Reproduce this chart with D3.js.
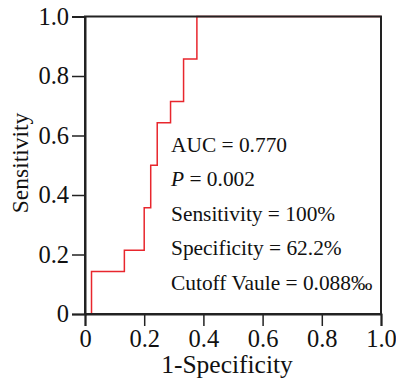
<!DOCTYPE html>
<html><head><meta charset="utf-8">
<script src="https://cdn.jsdelivr.net/npm/d3@7"></script>
<style>html,body{margin:0;padding:0;background:#fff;}svg{display:block;}</style>
</head><body>
<svg id="c" width="396" height="384"></svg>
<script>
// ROC step points (1-Specificity, Sensitivity)
const fpr = [0.022, 0.022, 0.133, 0.133, 0.200, 0.200, 0.222, 0.222, 0.244, 0.244, 0.289, 0.289, 0.333, 0.333, 0.378, 0.378, 1.0];
const tpr = [0.000, 0.143, 0.143, 0.214, 0.214, 0.357, 0.357, 0.500, 0.500, 0.643, 0.643, 0.714, 0.714, 0.857, 0.857, 1.000, 1.0];
const xTicks = [0, 0.2, 0.4, 0.6, 0.8, 1.0];
const yTicks = [0, 0.2, 0.4, 0.6, 0.8, 1.0];
const tickLabels = ["0", "0.2", "0.4", "0.6", "0.8", "1.0"];
const annotations = ["AUC = 0.770", "P = 0.002", "Sensitivity = 100%", "Specificity = 62.2%", "Cutoff Vaule = 0.088\u2030"];

const svg = d3.select("#c");
const font = "'Liberation Serif','Times New Roman',serif";
const L = 85, R = 381, T = 16.5, B = 314;
const x = d3.scaleLinear().domain([0, 1]).range([L, R]);
const y = d3.scaleLinear().domain([0, 1]).range([B, T]);

// ROC line
svg.append("path")
  .datum(fpr.map((f, i) => [f, tpr[i]]))
  .attr("fill", "none").attr("stroke", "#e8262d").attr("stroke-width", 1.5)
  .attr("d", d3.line().x(d => x(d[0])).y(d => y(d[1])));

// frame
svg.append("rect").attr("x", L).attr("y", T).attr("width", R - L).attr("height", B - T)
  .attr("fill", "none").attr("stroke", "#222").attr("stroke-width", 2);

const fmt = d => tickLabels[xTicks.indexOf(d)];
const xAxis = svg.append("g").attr("transform", `translate(0,${B})`)
  .call(d3.axisBottom(x).tickValues(xTicks).tickFormat(fmt).tickSize(12).tickPadding(4));
const yAxis = svg.append("g").attr("transform", `translate(${L},0)`)
  .call(d3.axisLeft(y).tickValues(yTicks).tickFormat(fmt).tickSize(13).tickPadding(3));
[xAxis, yAxis].forEach(g => {
  g.select(".domain").attr("stroke", "#222").attr("stroke-width", 2);
  g.selectAll(".tick line").attr("stroke", "#222").attr("stroke-width", 1.5);
  g.selectAll("text").attr("font-family", font).attr("font-size", 24.5).attr("fill", "#111");
});

svg.append("text").attr("x", (L + R) / 2 - 6).attr("y", 373).attr("text-anchor", "middle")
  .attr("font-family", font).attr("font-size", 25.5).attr("fill", "#111").text("1-Specificity");
svg.append("text").attr("transform", `translate(28,163) rotate(-90)`).attr("text-anchor", "middle")
  .attr("font-family", font).attr("font-size", 23.5).attr("fill", "#111").text("Sensitivity");

// annotations
annotations.forEach((t, i) => {
  const tx = svg.append("text").attr("x", 171).attr("y", 151.5 + i * 34.6)
    .attr("font-family", font).attr("font-size", 21.4).attr("fill", "#111");
  if (t.startsWith("P ")) {
    tx.append("tspan").attr("font-style", "italic").text("P");
    tx.append("tspan").text(t.slice(1));
  } else tx.text(t);
});
</script>
</body></html>
